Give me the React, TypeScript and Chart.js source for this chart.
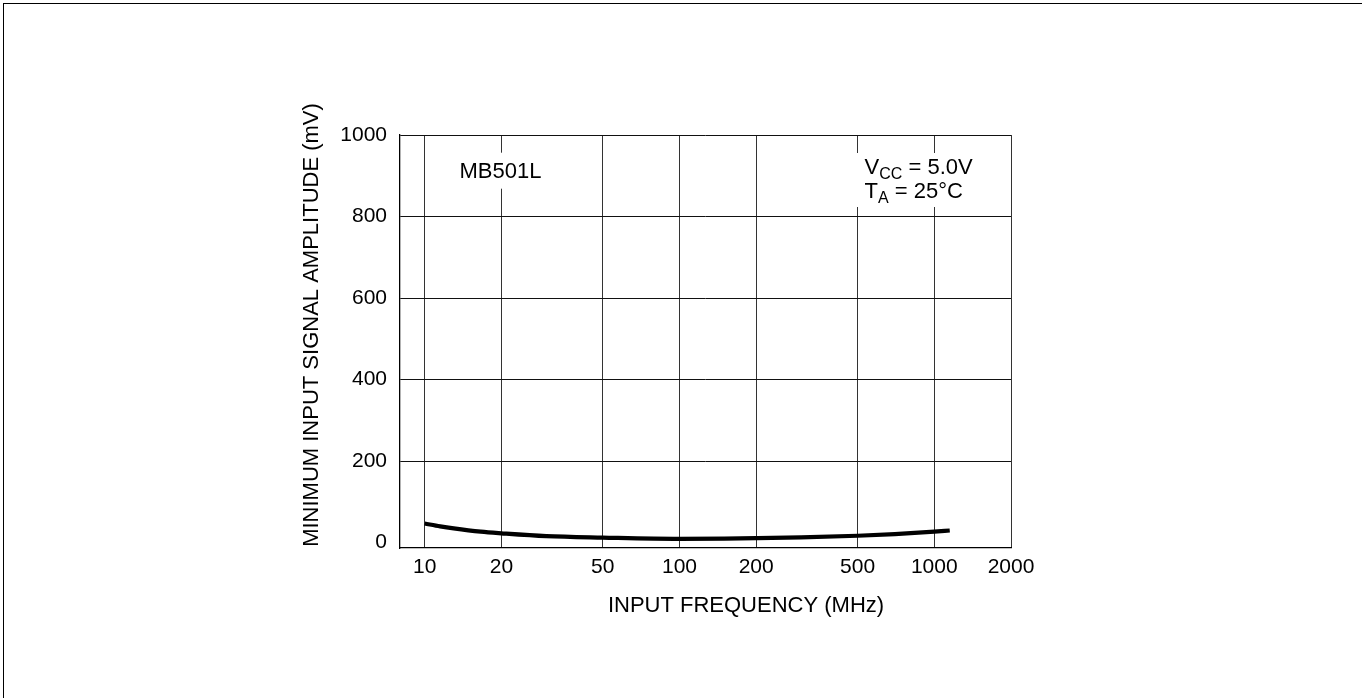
import React, { useEffect, useRef } from 'react';
import { Chart, registerables } from 'chart.js';

Chart.register(...registerables);

// ---- data ----
const frequencyMHz = [10, 11.5, 13, 16.6, 20, 30, 50, 100, 150, 200, 300, 500, 700, 1000, 1150];
const amplitudeMV = [47, 40, 35, 27, 23, 16, 12.5, 9.5, 10, 11, 13, 17, 21, 27, 30];
const xTickValues = [10, 20, 50, 100, 200, 500, 1000, 2000];
const yTickValues = [0, 200, 400, 600, 800, 1000];
const xTitle = 'INPUT FREQUENCY (MHz)';
const yTitle = 'MINIMUM INPUT SIGNAL AMPLITUDE (mV)';
const deviceLabel = 'MB501L';
const conditionLines = [
  [{ t: 'V' }, { t: 'CC', sub: true }, { t: ' = 5.0V' }],
  [{ t: 'T' }, { t: 'A', sub: true }, { t: ' = 25°C' }],
];

const FAMILY = '"Liberation Sans", Arial, Helvetica, sans-serif';
const font = (s: number) => `${s}px ${FAMILY}`;

const annotationPlugin = {
  id: 'annotations',
  afterDraw(chart: any) {
    const ctx = chart.ctx as CanvasRenderingContext2D;
    const xs = chart.scales.x;
    const ys = chart.scales.y;
    ctx.save();
    ctx.fillStyle = '#000';

    // device label with white backing
    const mbX = xs.getPixelForValue(20) - 1;
    const mbY = ys.getPixelForValue(910);
    ctx.font = font(22);
    const mbW = ctx.measureText(deviceLabel).width;
    ctx.fillStyle = '#fff';
    ctx.fillRect(mbX - mbW / 2 - 8, mbY - 19, mbW + 16, 36);
    ctx.fillStyle = '#000';
    ctx.textAlign = 'center';
    ctx.textBaseline = 'middle';
    ctx.fillText(deviceLabel, mbX, mbY);

    // conditions block
    const cx = xs.getPixelForValue(500) + 7;
    const base1 = 173.5;
    ctx.fillStyle = '#fff';
    ctx.fillRect(cx - 14, 153, 130, 54);
    ctx.fillStyle = '#000';
    ctx.textAlign = 'left';
    ctx.textBaseline = 'alphabetic';
    conditionLines.forEach((line, i) => {
      let x = cx;
      const base = base1 + i * 24.5;
      line.forEach((part: any) => {
        ctx.font = font(part.sub ? 16 : 22);
        const y = part.sub ? base + 5 : base;
        ctx.fillText(part.t, x, y);
        x += ctx.measureText(part.t).width;
      });
    });

    // axis titles
    ctx.font = font(22);
    ctx.textAlign = 'center';
    ctx.textBaseline = 'alphabetic';
    ctx.fillText(xTitle, 746, 612);

    ctx.translate(318, 325);
    ctx.rotate(-Math.PI / 2);
    ctx.fillText(yTitle, 0, 0);
    ctx.restore();
  },
};

export default function App() {
  const ref = useRef<HTMLCanvasElement | null>(null);
  useEffect(() => {
    if (!ref.current) return;
    const chart = new Chart(ref.current, {
      type: 'line',
      data: {
        datasets: [
          {
            data: frequencyMHz.map((f, i) => ({ x: f, y: amplitudeMV[i] })),
            borderColor: '#000',
            borderWidth: 4.2,
            pointRadius: 0,
            cubicInterpolationMode: 'monotone',
            fill: false,
            borderCapStyle: 'butt',
          },
        ],
      },
      options: {
        animation: false,
        responsive: false,
        devicePixelRatio: 1,
        layout: { padding: { left: 0, right: 351, top: 135, bottom: 100 } },
        plugins: { legend: { display: false }, tooltip: { enabled: false }, title: { display: false } },
        scales: {
          x: {
            type: 'logarithmic',
            min: 8,
            max: 2000,
            afterBuildTicks: (s: any) => {
              s.ticks = xTickValues.map((v) => ({ value: v }));
            },
            afterFit: (s: any) => {
              s.height = 50;
            },
            ticks: {
              autoSkip: false,
              maxRotation: 0,
              padding: 7,
              color: '#000',
              font: { family: FAMILY, size: 21 },
              callback: (v: any) => String(v),
            },
            grid: { color: '#333', lineWidth: 1, drawTicks: false },
            border: { display: true, color: '#000', width: 1.3 },
          },
          y: {
            type: 'linear',
            min: -13,
            max: 1000,
            afterBuildTicks: (s: any) => {
              s.ticks = yTickValues.map((v) => ({ value: v }));
            },
            afterFit: (s: any) => {
              s.width = 400;
            },
            ticks: {
              padding: 13,
              color: '#000',
              font: { family: FAMILY, size: 21 },
              callback: (v: any) => String(v),
            },
            grid: {
              color: (c: any) => (c.tick && c.tick.value === 0 ? 'rgba(0,0,0,0)' : '#111'),
              lineWidth: 1,
              drawTicks: false,
            },
            border: { display: true, color: '#000', width: 1.3 },
          },
        },
      },
      plugins: [annotationPlugin],
    } as any);
    return () => chart.destroy();
  }, []);

  return (
    <div style={{ position: 'absolute', left: 0, top: 0, width: 1362, height: 698, background: '#fff' }}>
      <canvas ref={ref} width={1362} height={698} style={{ position: 'absolute', left: 0, top: 0 }} />
      <div
        style={{
          position: 'absolute',
          left: 3,
          top: 3,
          right: 0,
          bottom: 0,
          borderTop: '1px solid #000',
          borderLeft: '1px solid #000',
          pointerEvents: 'none',
        }}
      />
    </div>
  );
}
